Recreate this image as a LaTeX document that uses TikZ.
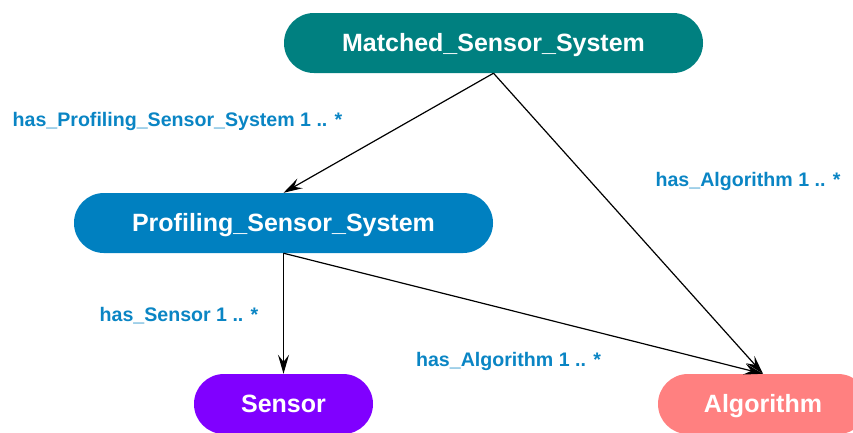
\documentclass[tikz,border=0pt]{standalone}
\usepackage{fontspec}
\setmainfont{Liberation Sans}
\usetikzlibrary{arrows.meta}
\definecolor{mssteal}{HTML}{008080}
\definecolor{pssblue}{HTML}{0080C0}
\definecolor{senspurple}{HTML}{8000FF}
\definecolor{algpink}{HTML}{FF8080}
\definecolor{rolecol}{HTML}{0A85C4}
\tikzset{
  classbox/.style={rectangle, rounded corners=29.9pt, minimum height=60pt,
    inner sep=0pt, text=white, font=\fontsize{25}{30}\selectfont\bfseries,
    text height=17.9pt, text depth=0pt},
  rolelabel/.style={anchor=base, inner sep=0pt, text=rolecol,
    font=\fontsize{19.6}{24}\selectfont\bfseries},
  assoc/.style={draw=black, line width=1.2pt,
    -{Stealth[length=19pt,width=11pt,inset=7pt]}}
}
\begin{document}
\begin{tikzpicture}[x=1pt,y=-1pt]
  \useasboundingbox (0,0) rectangle (853,432);
  \clip (0,0) rectangle (853,432);

  % classes
  \node[classbox, fill=mssteal, minimum width=419pt] (mss) at (493.5,43) {Matched\_Sensor\_System};
  \node[classbox, fill=pssblue, minimum width=419pt] (pss) at (283.5,223) {Profiling\_Sensor\_System};
  \node[classbox, fill=senspurple, minimum width=179pt] (sens) at (283.5,404) {Sensor};
  \node[classbox, fill=algpink, minimum width=210pt] (alg) at (763,404) {Algorithm};

  % associations
  \draw[assoc] (mss.south) -- (pss.north);
  \draw[assoc] (mss.south) -- (alg.north);
  \draw[assoc] (pss.south) -- (sens.north);
  \draw[assoc] (pss.south) -- (alg.north);

  % role labels
  \node[rolelabel] (l1) at (177.5,126.5) {has\_Profiling\_Sensor\_System 1 .. *};
  \node[rolelabel] (l2) at (748,186.5) {has\_Algorithm 1 .. *};
  \node[rolelabel] (l3) at (179,321.5) {has\_Sensor 1 .. *};
  \node[rolelabel] (l4) at (508.5,366.5) {has\_Algorithm 1 .. *};
\end{tikzpicture}
\end{document}
